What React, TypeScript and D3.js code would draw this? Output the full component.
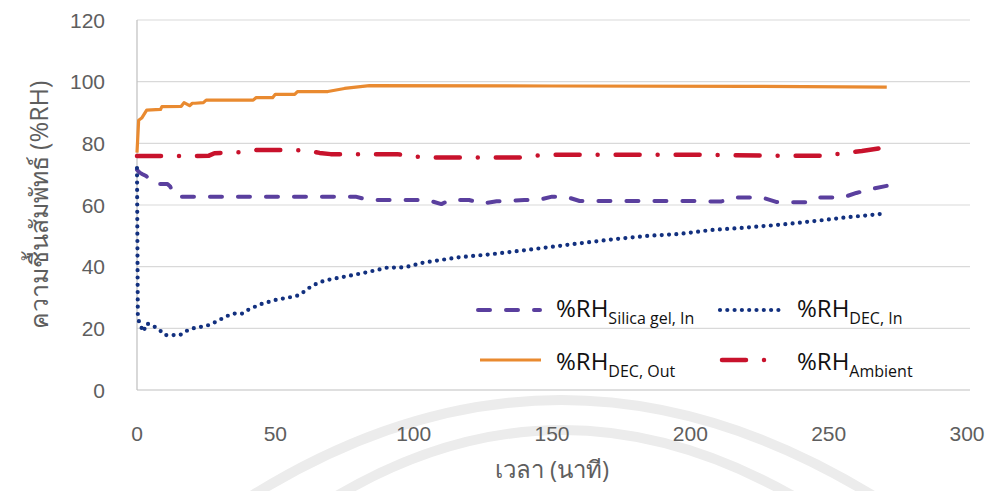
import React from 'react';
import * as d3 from 'd3';

const W = 994;
const H = 491;

const xTicks = [0, 50, 100, 150, 200, 250, 300];
const yTicks = [0, 20, 40, 60, 80, 100, 120];

// %RH DEC, Out (orange solid)
const tDecOut = [0, 0.6, 1.7, 3.5, 8.5, 9, 16, 17, 19, 20, 21, 24, 25, 42, 43, 49, 50, 57, 58, 69, 75, 84, 150, 220, 271];
const vDecOut = [77, 87.5, 88.2, 90.8, 91, 91.9, 92, 93.2, 92.2, 93, 93, 93.2, 94, 94, 94.8, 94.8, 95.9, 95.9, 96.8, 96.8, 97.8, 98.7, 98.6, 98.5, 98.2];

// %RH Ambient (red dash-dot)
const tAmb = [0, 10, 20, 26, 28, 36, 42, 52, 57, 62, 66, 70, 72, 80, 94, 100, 106, 120, 138, 143, 148, 160, 180, 200, 230, 250, 255, 262, 268];
const vAmb = [75.9, 75.9, 75.9, 76, 76.8, 77, 77.8, 77.8, 77.8, 77.6, 76.9, 76.5, 76.5, 76.5, 76.5, 75.7, 75.4, 75.4, 75.4, 75.9, 76.3, 76.3, 76.3, 76.3, 76, 76, 76.8, 77.5, 78.3];

// %RH Silica gel, In (purple dashed)
const tSilica = [0, 1, 2, 3.3, 5, 7, 11, 12, 13, 15, 30, 79, 82, 85, 100, 105, 110, 113, 120, 125, 130, 140, 145, 150, 155, 160, 170, 200, 211, 216, 221, 226, 231, 236, 242, 246, 251, 255, 260, 266, 271];
const vSilica = [71.4, 70.5, 70, 69.4, 68, 66.8, 66.8, 66, 64, 62.7, 62.7, 62.7, 62, 61.6, 61.6, 61.6, 60.3, 61.6, 61.6, 60.5, 61.2, 61.6, 61.6, 62.7, 62.7, 61.3, 61.3, 61.3, 61.1, 62.4, 62.4, 62.4, 61, 60.9, 60.9, 62.4, 62.4, 62.4, 63.9, 65.3, 66.2];

// %RH DEC, In (navy dotted)
const tDecIn = [0, 0.3, 0.8, 2.3, 3.5, 5.9, 8.1, 10.1, 15.5, 18, 20.3, 25.4, 27.8, 30.2, 32.6, 35, 38, 40.2, 42.6, 45, 50, 55.4, 58, 60.4, 62.8, 65.2, 67.8, 70.6, 76.4, 82.1, 87.6, 90.5, 95, 99.3, 102, 116, 127.6, 139, 150.5, 162, 173.4, 184.8, 196, 207.7, 219, 233.6, 245, 256.5, 268, 270];
const vDecIn = [72, 24, 21.8, 18.9, 21.6, 20.8, 19.5, 17.8, 17.8, 19.2, 20, 20.9, 21.8, 22.9, 24, 24.8, 24.8, 26, 27, 27.9, 29.2, 30.1, 30.6, 31.9, 33.5, 34.6, 35.5, 36, 37, 38, 39.1, 39.7, 39.7, 40.2, 41.1, 43, 44, 45.2, 46.5, 47.8, 49, 50, 50.6, 51.9, 52.6, 53.7, 54.8, 56, 57, 57.2];

const C_ORANGE = '#e98a30';
const C_RED = '#c8122c';
const C_PURPLE = '#5a3f9e';
const C_NAVY = '#12307f';
const C_TEXT = '#5e5e5e';

const S_DEC_OUT = { stroke: C_ORANGE, strokeWidth: 3.2, dash: undefined as string | undefined };
const S_AMB = { stroke: C_RED, strokeWidth: 4.5, dash: '24 18 0 18' };
const S_SILICA = { stroke: C_PURPLE, strokeWidth: 4, dash: '12 16' };
const S_DEC_IN = { stroke: C_NAVY, strokeWidth: 4.2, dash: '0 7.3' };

const FONT = '"Open Sans", "Noto Sans", "DejaVu Sans", sans-serif';
const TICK_FONT = '"Liberation Sans Narrow", "Liberation Sans", "Noto Sans", sans-serif';

export default function App() {
  const x = d3.scaleLinear().domain([0, 300]).range([137, 967]);
  const y = d3.scaleLinear().domain([0, 120]).range([390, 20]);

  const mk = (ts: number[], vs: number[]) =>
    d3
      .line<number>()
      .x((t) => x(t))
      .y((_, i) => y(vs[i]))(ts) || '';

  const series = [
    { d: mk(tDecOut, vDecOut), s: S_DEC_OUT },
    { d: mk(tAmb, vAmb), s: S_AMB },
    { d: mk(tSilica, vSilica), s: S_SILICA },
    { d: mk(tDecIn, vDecIn), s: S_DEC_IN },
  ];

  const legend = [
    { x0: 478, x1: 540, ly: 310, tx: 556, ty: 317, main: '%RH', sub: 'Silica gel, In', s: S_SILICA },
    { x0: 720, x1: 782, ly: 310, tx: 797, ty: 317, main: '%RH', sub: 'DEC, In', s: S_DEC_IN },
    { x0: 480, x1: 541, ly: 360, tx: 556, ty: 370, main: '%RH', sub: 'DEC, Out', s: S_DEC_OUT },
    { x0: 722, x1: 782, ly: 360, tx: 797, ty: 370, main: '%RH', sub: 'Ambient', s: S_AMB },
  ];

  return (
    <svg
      width={W}
      height={H}
      viewBox={`0 0 ${W} ${H}`}
      style={{ position: 'absolute', left: 0, top: 0, background: '#fff' }}
    >
      <rect x={0} y={0} width={W} height={H} fill="#fff" />
      {/* watermark arcs */}
      <g fill="none" stroke="#ececec" strokeWidth={10}>
        <path d={`M 245 500 Q 560 300 880 500`} />
        <path d={`M 330 500 Q 560 360 800 500`} />
      </g>
      {/* gridlines */}
      {yTicks.map((t) => (
        <line key={t} x1={137} x2={970} y1={y(t)} y2={y(t)} stroke={t === 0 ? '#bfbfbf' : '#d9d9d9'} strokeWidth={1.2} />
      ))}
      <line x1={137} x2={137} y1={y(120)} y2={y(0)} stroke="#bfbfbf" strokeWidth={1.2} />
      {/* y tick labels */}
      {yTicks.map((t) => (
        <text key={t} x={105} y={y(t)} dy="0.36em" textAnchor="end" fontFamily={TICK_FONT} fontSize={21} fill={C_TEXT}>
          {t}
        </text>
      ))}
      {/* x tick labels */}
      {xTicks.map((t) => (
        <text key={t} x={x(t)} y={441} textAnchor="middle" fontFamily={TICK_FONT} fontSize={21} fill={C_TEXT}>
          {t}
        </text>
      ))}
      {/* axis titles */}
      <text x={552} y={478} textAnchor="middle" fontFamily={FONT} fontSize={24} fill={C_TEXT}>
        เวลา (นาที)
      </text>
      <text
        transform={`translate(48, 205) rotate(-90)`}
        textAnchor="middle"
        fontFamily={FONT}
        fontSize={25}
        fill={C_TEXT}
      >
        ความชื้นสัมพัทธ์ (%RH)
      </text>
      {/* series */}
      {series.map((sr, i) => (
        <path
          key={i}
          d={sr.d}
          fill="none"
          stroke={sr.s.stroke}
          strokeWidth={sr.s.strokeWidth}
          strokeDasharray={sr.s.dash}
          strokeLinecap={sr.s.dash ? 'round' : 'butt'}
          strokeLinejoin="round"
        />
      ))}
      {/* legend */}
      {legend.map((l, i) => (
        <g key={i}>
          <line
            x1={l.x0}
            x2={l.x1}
            y1={l.ly}
            y2={l.ly}
            stroke={l.s.stroke}
            strokeWidth={l.s.strokeWidth}
            strokeDasharray={l.s.dash}
            strokeLinecap={l.s.dash ? 'round' : 'butt'}
          />
          <text x={l.tx} y={l.ty} fontFamily={FONT} fontSize={24} fill="#111">
            {l.main}
            <tspan fontSize={16} dy={7}>
              {l.sub}
            </tspan>
          </text>
        </g>
      ))}
    </svg>
  );
}
